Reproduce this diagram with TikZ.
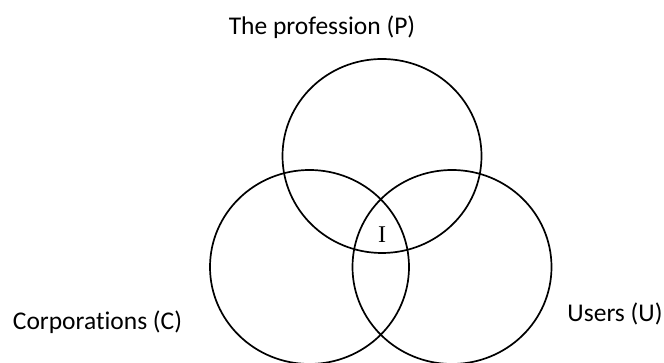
\documentclass[tikz,border=0pt]{standalone}
\usepackage{fontspec}
\setmainfont{Carlito}[Ligatures=NoCommon]
\newfontfamily\interfont{Liberation Serif}
\usepackage{tikz}
\usetikzlibrary{shapes.geometric, positioning}

\begin{document}
\begin{tikzpicture}[
    x=1pt, y=1pt,
    font=\fontsize{25.5}{30}\selectfont,
    set/.style={draw, ellipse, line width=1.7pt, minimum width=199pt, minimum height=194pt, inner sep=0pt},
    setlabel/.style={anchor=base, inner sep=0pt}
]
\useasboundingbox (0,0) rectangle (664,363);

\node[set] (prof) at (382,207) {};
\node[set] (corp) at (309.5,96) {};
\node[set] (users) at (452,96) {};

\node[setlabel] (proflabel) at (322,328) {The profession (P)};
\node[setlabel] (corplabel) at (97.5,33) {Corporations (C)};
\node[setlabel] (userslabel) at (615,41) {Users (U)};
\node[setlabel, font=\fontsize{24}{28}\interfont] (inter) at (382,120) {I};
\end{tikzpicture}
\end{document}
